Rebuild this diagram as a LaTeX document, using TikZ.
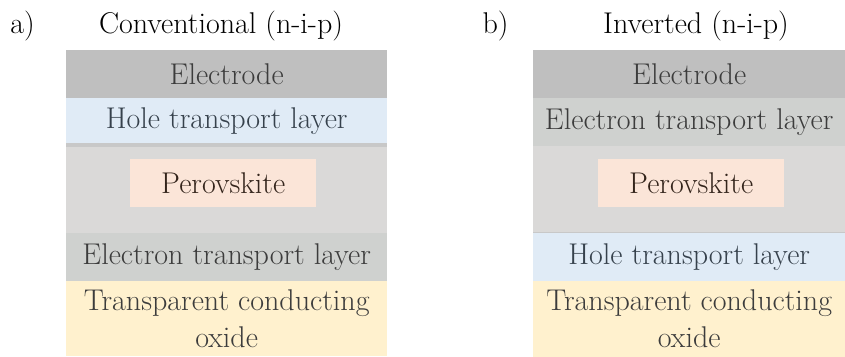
\documentclass[tikz,border=0pt]{standalone}
\usetikzlibrary{positioning}

\definecolor{electrode}{HTML}{BFBFBF}
\definecolor{htl}{HTML}{E0EBF6}
\definecolor{perov}{HTML}{DAD9D8}
\definecolor{perovbox}{HTML}{FBE5D8}
\definecolor{etl}{HTML}{CFD1CF}
\definecolor{tco}{HTML}{FFF1CE}
\definecolor{seam}{HTML}{C8C8C8}
\definecolor{layertext}{HTML}{3C3C3C}
\definecolor{htltext}{HTML}{36414C}
\definecolor{perovtext}{HTML}{33241B}

\tikzset{
    layer/.style={anchor=north west, inner sep=0pt, minimum width=#1, text=layertext,
        font=\fontsize{30}{37}\selectfont, align=center},
    layer/.default=321pt,
    title/.style={anchor=base, inner sep=0pt, font=\fontsize{30}{36}\selectfont}
}

\begin{document}
\begin{tikzpicture}[x=1pt, y=-1pt]
        \useasboundingbox (0, 0) rectangle (845, 356);

        % Titles
        \node[title] (labA) at (22.5, 33) {a)};
        \node[title] (titA) at (221, 33) {Conventional (n-i-p)};
        \node[title] (labB) at (495.5, 33) {b)};
        \node[title] (titB) at (696, 33) {Inverted (n-i-p)};

        % Stack a): conventional
        \node[layer, fill=electrode, minimum height=48pt] (elecA) at (66, 50) {Electrode};
        \node[layer, fill=htl, minimum height=45pt, text=htltext] (htlA) at (66, 98) {Hole transport layer};
        \fill[seam] (66, 143) rectangle (387, 147);
        \node[layer, fill=perov, minimum height=86pt] (perA) at (66, 147) {};
        \node[layer, fill=perovbox, minimum width=186pt, minimum height=48pt, text=perovtext] (boxA) at (130, 159) {Perovskite};
        \node[layer, fill=etl, minimum height=48pt] (etlA) at (66, 233) {Electron transport layer};
        \node[layer, fill=tco, minimum height=75pt] (tcoA) at (66, 281) {Transparent conducting\\oxide};

        % Stack b): inverted
        \node[layer=312pt, fill=electrode, minimum height=48pt] (elecB) at (533, 50) {Electrode};
        \node[layer=312pt, fill=etl, minimum height=48pt] (etlB) at (533, 98) {Electron transport layer};
        \node[layer=312pt, fill=perov, minimum height=86pt] (perB) at (533, 146) {};
        \node[layer, fill=perovbox, minimum width=186pt, minimum height=48pt, text=perovtext] (boxB) at (598, 159) {Perovskite};
        \draw[seam, line width=1pt] (perB.south west) -- (perB.south east);
        \node[layer=312pt, fill=htl, minimum height=48pt, text=htltext] (htlB) at (533, 232.5) {Hole transport layer};
        \node[layer=312pt, fill=tco, minimum height=76pt] (tcoB) at (533, 280.5) {Transparent conducting\\oxide};
\end{tikzpicture}
\end{document}
